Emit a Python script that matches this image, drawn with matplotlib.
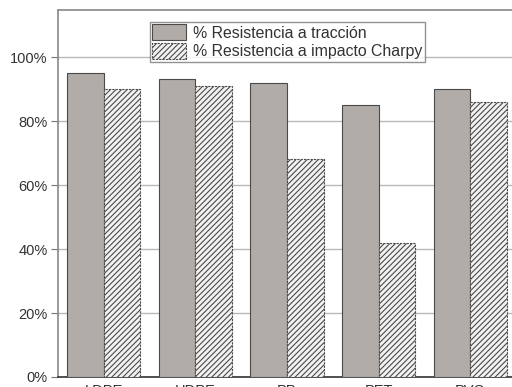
import numpy as np
import matplotlib.pyplot as plt
from matplotlib.ticker import PercentFormatter

plt.rcParams['font.family'] = ['Liberation Sans', 'DejaVu Sans']
plt.rcParams['hatch.color'] = '#8a8a8a'
plt.rcParams['hatch.linewidth'] = 0.8

# data
materials = ['LDPE', 'HDPE', 'PP', 'PET', 'PVC']
traccion = [95, 93, 92, 85, 90]
charpy = [90, 91, 68, 42, 86]

fig = plt.figure(figsize=(5.12, 3.87), dpi=100)
ax = fig.add_axes([58/512, 10/387, 458/512, 367/387])

x = np.arange(len(materials))
w = 0.4
ax.bar(x - w/2, traccion, w, color='#b2aca9', edgecolor='#4a4a4a', linewidth=0.8,
       label='% Resistencia a tracción', zorder=3)
ax.bar(x + w/2, charpy, w, color='#f2f2f2', edgecolor='#4a4a4a', linewidth=0.8,
       linestyle=(0, (2, 1)), hatch='//////', label='% Resistencia a impacto Charpy', zorder=3)

ax.set_xlim(-0.5, 4.5)
ax.set_ylim(0, 114.7)
ax.set_yticks([0, 20, 40, 60, 80, 100])
ax.yaxis.set_major_formatter(PercentFormatter(decimals=0))
ax.set_xticks(x)
ax.set_xticklabels(materials)
ax.tick_params(axis='y', length=5, color='#777777', labelsize=10.5, labelcolor='#333333', pad=2.5)
ax.tick_params(axis='x', length=0, labelsize=10.5, labelcolor='#333333', pad=5)
ax.grid(axis='y', color='#b8b8b8', linewidth=1.0, zorder=0)

for s in ['top', 'left', 'right']:
    ax.spines[s].set_color('#888888')
    ax.spines[s].set_linewidth(1.2)
ax.spines['bottom'].set_color('#333333')
ax.spines['bottom'].set_linewidth(1.2)

leg = ax.legend(loc='upper left', bbox_to_anchor=(92/458, 1 - 12/367), fontsize=11.4,
                frameon=True, fancybox=False, borderpad=0.15, handlelength=2.1,
                handleheight=1.15, handletextpad=0.45, labelspacing=0.15, borderaxespad=0)
leg.get_frame().set_edgecolor('#777777')
leg.get_frame().set_linewidth(1.0)
leg.set_zorder(5)
for t in leg.get_texts():
    t.set_color('#333333')

fig.savefig('out.png', dpi=100)
